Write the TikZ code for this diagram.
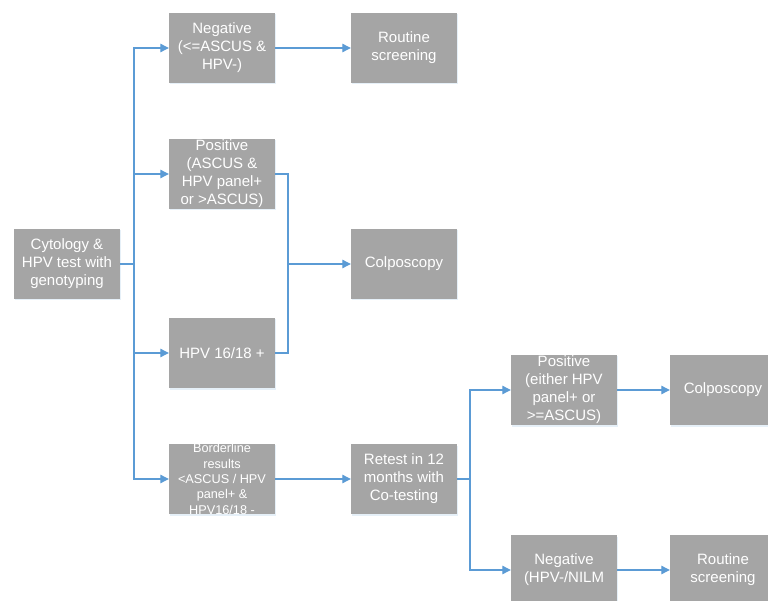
\documentclass[tikz,border=0pt]{standalone}
\usepackage{fontspec}
\setmainfont{Liberation Sans}
\usepackage{xcolor}
\usetikzlibrary{arrows.meta,shadows}
\definecolor{boxgray}{HTML}{A5A5A5}
\definecolor{linkblue}{HTML}{5B9BD5}
\tikzset{
  box/.style={fill=boxgray, text=white, minimum width=106pt, minimum height=70pt,
    inner sep=0pt, align=center, font=\fontsize{15}{18}\selectfont,
    drop shadow={shadow xshift=0.5pt, shadow yshift=-1.5pt, fill=linkblue!30, opacity=0.5}},
  smallbox/.style={box, font=\fontsize{12.7}{15.3}\selectfont},
  link/.style={draw=linkblue, line width=1.1pt},
  arrow/.style={link, -{Triangle[length=8.5pt,width=8.5pt]}}
}

\begin{document}
\begin{tikzpicture}[x=1pt,y=-1pt]
\useasboundingbox (0,0) rectangle (768,601);
\clip (0,0) rectangle (768,601);

\node[box] (start) at (67,264) {Cytology \&\\HPV test with\\genotyping};
\node[box] (neg) at (222,48) {Negative\\(<=ASCUS \&\\HPV-)};
\node[box] (routine) at (404,48) {Routine\\screening};
\node[box] (pos) at (222,174) {Positive\\(ASCUS \&\\HPV panel+\\or >ASCUS)};
\node[box] (colpo) at (404,264) {Colposcopy};
\node[box] (hpv) at (222,353) {HPV 16/18 +};
\node[smallbox] (border) at (222,479) {Borderline\\results\\<ASCUS / HPV\\panel+ \&\\HPV16/18 -};
\node[box] (retest) at (404,479) {Retest in 12\\months with\\Co-testing};
\node[box] (pos2) at (564,390) {Positive\\(either HPV\\panel+ or\\>=ASCUS)};
\node[box] (colpo2) at (723,390) {Colposcopy};
\node[box] (neg2) at (564,570) {Negative\\(HPV-/NILM};
\node[box] (routine2) at (723,570) {Routine\\screening};

\coordinate (bus1) at (134,264);
\coordinate (bus2) at (288,264);
\coordinate (bus3) at (470,479);

\draw[arrow] (start.east) -- (bus1) |- (neg.west);
\draw[arrow] (start.east) -- (bus1) |- (pos.west);
\draw[arrow] (start.east) -- (bus1) |- (hpv.west);
\draw[arrow] (start.east) -- (bus1) |- (border.west);
\draw[arrow] (neg.east) -- (routine.west);
\draw[link] (pos.east) -| (bus2);
\draw[link] (hpv.east) -| (bus2);
\draw[arrow] (bus2) -- (colpo.west);
\draw[arrow] (border.east) -- (retest.west);
\draw[arrow] (retest.east) -- (bus3) |- (pos2.west);
\draw[arrow] (retest.east) -- (bus3) |- (neg2.west);
\draw[arrow] (pos2.east) -- (colpo2.west);
\draw[arrow] (neg2.east) -- (routine2.west);
\end{tikzpicture}
\end{document}
